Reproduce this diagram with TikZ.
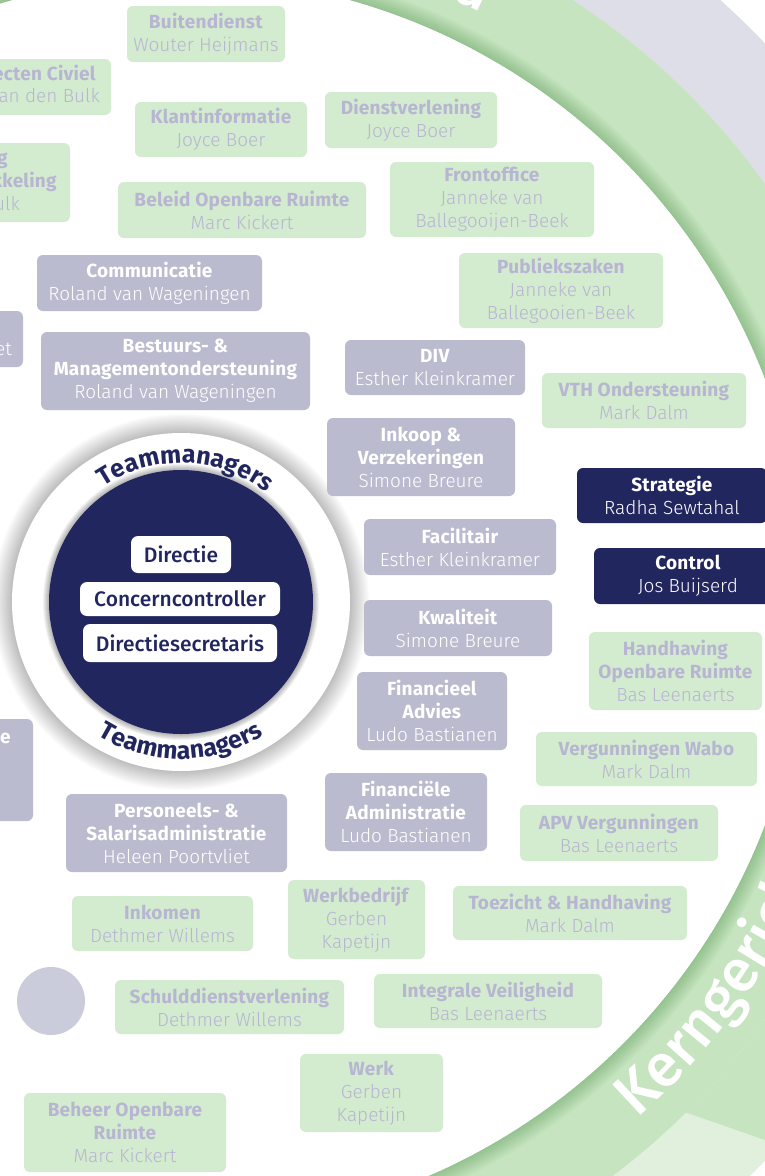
\documentclass[tikz,border=0pt]{standalone}
\usepackage{fontspec}
\setmainfont{Fira Sans}[UprightFont={* Light}, BoldFont={* Bold}, BoldFeatures={LetterSpace=1.2}]
\newfontfamily\regfont{Fira Sans}
\newfontfamily\medfont{Fira Sans Medium}
\usetikzlibrary{decorations.text,calc}
\definecolor{gfill}{HTML}{D3EBCE}
\definecolor{gtext}{HTML}{B8B5D3}
\definecolor{pfill}{HTML}{BBBBCF}
\definecolor{navy}{HTML}{22265F}
\definecolor{ringc}{HTML}{C5E4BF}
\definecolor{lavband}{HTML}{DEDEE8}
\definecolor{lgband}{HTML}{E1F0DD}
\definecolor{dotc}{HTML}{CACBDB}
\newcommand\obox[7]{\node[#1, minimum width={(#5)-(#3)}, minimum height={(#6)-(#4)}] (#2) at ({((#3)+(#5))/2},{-((#4)+(#6))/2}) {#7};}
\begin{document}
\begin{tikzpicture}[x=1pt,y=1pt,
  basebox/.style={rounded corners=6pt, align=center, inner sep=0pt, font=\fontsize{19}{23}\selectfont},
  gbox/.style={basebox, fill=gfill, text=gtext},
  pbox/.style={basebox, fill=pfill, text=white},
  nbox/.style={basebox, fill=navy, text=white},
  wbox/.style={rounded corners=7pt, fill=white, text=navy, inner sep=0pt, font=\medfont\fontsize{21}{21}\selectfont},
  ptxt/.style={inner sep=0pt, font=\fontsize{19}{23}\selectfont},
  ringtext/.style={decorate, decoration={text along path, text color=white, text align=left, text={|\medfont\fontsize{60}{60}\selectfont|#1}}},
  tmtext/.style={decorate, decoration={text along path, text color=navy, text align=center, text={|\regfont\bfseries\fontsize{25}{25}\selectfont|Teammanagers}}}
]
\useasboundingbox (0,0) rectangle (765,-1176);
\clip (0,0) rectangle (765,-1176);
\fill[white] (0,0) rectangle (765,-1176);
\coordinate (c) at (181,-602);
% outer bands
\begin{scope}[even odd rule]
  \clip (c) circle (808) (c) circle (718);
  \fill[ringc] (0,0) rectangle (900,-1300);
  \fill[lavband] (0,100) rectangle (900,-300);
  \fill[lgband] (500,-1048) -- (900,-1187) -- (900,-1400) -- (0,-1400) -- (0,-1048) -- cycle;
\end{scope}
% green ring
\fill[ringc, even odd rule] (c) circle (718) (c) circle (625);
\foreach \i in {1,...,12} \fill[black!60!green, opacity=0.018, even odd rule] (c) circle (625) (c) circle ({625+\i*1.4});
\path[ringtext={Kerngericht}] (c) ++(-48.5:689) arc (-48.5:10:689);
\node[white, font=\medfont\fontsize{60}{60}\selectfont, anchor=base, rotate=-25.5, inner sep=0pt] (topd) at ($(c)+(64.5:661)$) {d};
% small dot
\node[circle, fill=dotc, minimum size=68pt, inner sep=0pt] (dot) at (51,-1001) {};
% central disc
\foreach \i in {1,...,16} \fill[black, opacity=0.014] (c) circle ({169+\i*1.2});
\fill[white] (c) circle (169);
\foreach \i in {1,...,6} \fill[black, opacity=0.05] (c) circle ({132+\i});
\fill[navy] (c) circle (132);
\path[tmtext] (c) ++(168:139) arc (168:8:139);
\path[tmtext] (c) ++(190:157) arc (190:350:157);
\obox{wbox}{w1}{131}{536}{231}{573}{Directie}
\obox{wbox}{w2}{80}{582}{280}{616}{Concerncontroller}
\obox{wbox}{w3}{83}{624}{277}{662}{Directiesecretaris}
% green boxes
\obox{gbox}{g1}{127}{6}{285}{62}{\textbf{Buitendienst}\\Wouter Heijmans}
\obox{gbox}{g2}{-40}{59}{111}{115}{}
\node[ptxt, text=gtext, anchor=base east] (g2a) at (96,-80) {\textbf{ecten Civiel}};
\node[ptxt, text=gtext, anchor=base east] (g2b) at (100,-102) {van den Bulk};
\obox{gbox}{g3}{-40}{143}{70}{222}{}
\node[ptxt, text=gtext, anchor=base east] (g3a) at (8,-164) {\textbf{g}};
\node[ptxt, text=gtext, anchor=base east] (g3b) at (57,-187) {\textbf{kkeling}};
\node[ptxt, text=gtext, anchor=base east] (g3c) at (20,-210) {ulk};
\obox{gbox}{g4}{135}{102}{307}{157}{\textbf{Klantinformatie}\\Joyce Boer}
\obox{gbox}{g5}{325}{92}{497}{148}{\textbf{Dienstverlening}\\Joyce Boer}
\obox{gbox}{g6}{118}{182}{366}{238}{\textbf{Beleid Openbare Ruimte}\\Marc Kickert}
\obox{gbox}{g7}{390}{162}{594}{237}{\textbf{Frontoffice}\\Janneke van\\Ballegooijen-Beek}
\obox{gbox}{g8}{459}{253}{663}{328}{\textbf{Publiekszaken}\\Janneke van\\Ballegooien-Beek}
\obox{gbox}{g9}{542}{373}{746}{428}{\textbf{VTH Ondersteuning}\\Mark Dalm}
\obox{gbox}{g10}{589}{632}{762}{710}{\textbf{Handhaving}\\\textbf{Openbare Ruimte}\\Bas Leenaerts}
\obox{gbox}{g11}{536}{732}{757}{786}{\textbf{Vergunningen Wabo}\\Mark Dalm}
\obox{gbox}{g12}{520}{805}{718}{861}{\textbf{APV Vergunningen}\\Bas Leenaerts}
\obox{gbox}{g13}{453}{886}{687}{940}{\textbf{Toezicht \& Handhaving}\\Mark Dalm}
\obox{gbox}{g14}{374}{974}{602}{1028}{\textbf{Integrale Veiligheid}\\Bas Leenaerts}
\obox{gbox}{g15}{288}{880}{425}{959}{\textbf{Werkbedrijf}\\Gerben\\Kapetijn}
\obox{gbox}{g16}{300}{1054}{443}{1132}{\textbf{Werk}\\Gerben\\Kapetijn}
\obox{gbox}{g17}{72}{896}{253}{951}{\textbf{Inkomen}\\Dethmer Willems}
\obox{gbox}{g18}{115}{980}{344}{1034}{\textbf{Schulddienstverlening}\\Dethmer Willems}
\obox{gbox}{g19}{24}{1093}{226}{1172}{\textbf{Beheer Openbare}\\\textbf{Ruimte}\\Marc Kickert}
% grey boxes
\obox{pbox}{p1}{37}{255}{262}{311}{\textbf{Communicatie}\\Roland van Wageningen}
\obox{pbox}{p2}{-60}{311}{23}{367}{}
\node[ptxt, text=white, anchor=base east] (p2a) at (12,-355) {et};
\obox{pbox}{p3}{41}{332}{310}{410}{\textbf{Bestuurs- \&}\\\textbf{Managementondersteuning}\\Roland van Wageningen}
\obox{pbox}{p4}{345}{340}{525}{395}{\textbf{DIV}\\Esther Kleinkramer}
\obox{pbox}{p5}{327}{418}{515}{496}{\textbf{Inkoop \&}\\\textbf{Verzekeringen}\\Simone Breure}
\obox{pbox}{p6}{364}{519}{556}{575}{\textbf{Facilitair}\\Esther Kleinkramer}
\obox{pbox}{p7}{364}{600}{552}{656}{\textbf{Kwaliteit}\\Simone Breure}
\obox{pbox}{p8}{357}{672}{507}{750}{\textbf{Financieel}\\\textbf{Advies}\\Ludo Bastianen}
\obox{pbox}{p9}{325}{773}{487}{851}{\textbf{Financiële}\\\textbf{Administratie}\\Ludo Bastianen}
\obox{pbox}{p10}{66}{794}{287}{872}{\textbf{Personeels- \&}\\\textbf{Salarisadministratie}\\Heleen Poortvliet}
\obox{pbox}{p11}{-60}{719}{33}{821}{}
\node[ptxt, text=white, anchor=base east] (p11a) at (11,-743) {\textbf{e}};
% navy boxes
\obox{nbox}{n1}{577}{468}{767}{523}{\textbf{Strategie}\\Radha Sewtahal}
\obox{nbox}{n2}{594}{548}{782}{604}{\textbf{Control}\\Jos Buijserd}
\end{tikzpicture}
\end{document}
